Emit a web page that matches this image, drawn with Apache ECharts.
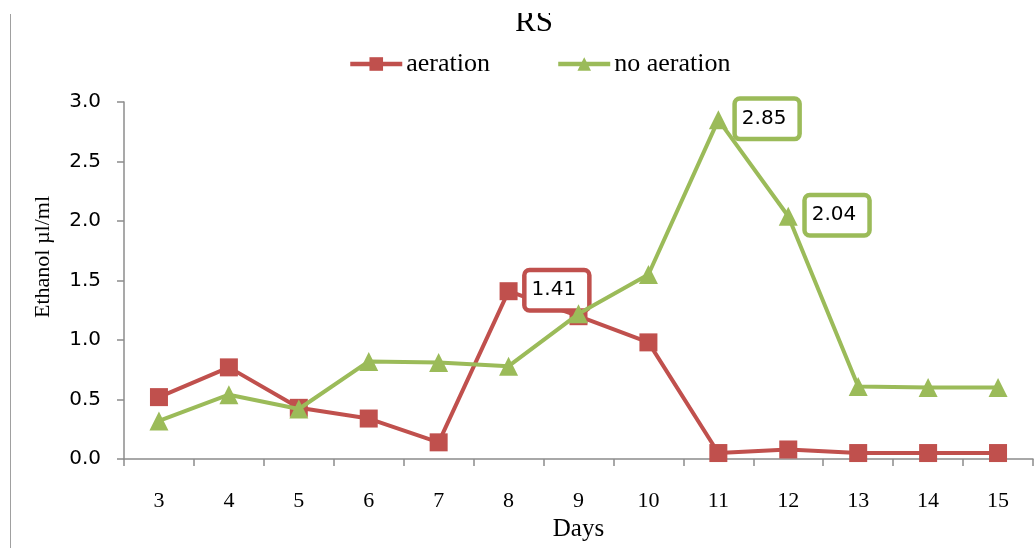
<!DOCTYPE html>
<html>
<head>
<meta charset="utf-8">
<script src="https://cdn.jsdelivr.net/npm/echarts@6/dist/echarts.min.js"></script>
<style>
  html, body { margin: 0; padding: 0; background: #fff; }
  #chart { width: 1036px; height: 548px; }
</style>
</head>
<body>
<div id="chart"></div>
<script>
// Ethanol concentration per day, with and without aeration
const days = ['3', '4', '5', '6', '7', '8', '9', '10', '11', '12', '13', '14', '15'];
const aeration = [0.52, 0.77, 0.43, 0.34, 0.14, 1.41, 1.20, 0.98, 0.05, 0.08, 0.05, 0.05, 0.05];
const noAeration = [0.32, 0.54, 0.42, 0.82, 0.81, 0.78, 1.22, 1.55, 2.85, 2.04, 0.61, 0.60, 0.60];
const yTicks = [0, 0.5, 1.0, 1.5, 2.0, 2.5, 3.0];
// indices of points whose value is written next to them
const aerationLabelled = [5];
const noAerationLabelled = [8, 9];

const RED = '#C0504D';
const GREEN = '#9BBB59';
const SERIF = '"Liberation Serif", "DejaVu Serif", serif';
const SANS = '"DejaVu Sans", Verdana, sans-serif';

function withLabels(values, labelled, color) {
  return values.map((v, i) => {
    if (!labelled.includes(i)) return v;
    return {
      value: v,
      label: {
        show: true,
        position: 'right',
        distance: 9,
        offset: [0, -1],
        formatter: (p) => p.value.toFixed(2),
        color: '#000',
        fontFamily: SANS,
        fontSize: 20,
        lineHeight: 22,
        backgroundColor: '#fff',
        borderColor: color,
        borderWidth: 4.5,
        borderRadius: 3,
        padding: [8, 11, 6, 5]
      }
    };
  });
}

const chart = echarts.init(document.getElementById('chart'));
chart.setOption({
  animation: false,
  backgroundColor: '#fff',
  title: {
    text: 'RS',
    left: 529,
    textAlign: 'center',
    top: 2,
    textStyle: { fontFamily: SERIF, fontSize: 31, fontWeight: 'normal', color: '#000' }
  },
  legend: {
    top: 46,
    left: 343,
    itemGap: 66,
    itemWidth: 52,
    itemHeight: 17,
    lineStyle: { width: 4.5 },
    textStyle: { fontFamily: SERIF, fontSize: 26, color: '#000', padding: [0, 0, 0, -1] },
    data: ['aeration', 'no aeration']
  },
  grid: { left: 124, right: 3, top: 102, bottom: 89, outerBoundsMode: 'none', containLabel: false },
  xAxis: {
    type: 'category',
    data: days,
    boundaryGap: true,
    name: 'Days',
    nameLocation: 'middle',
    nameGap: 53,
    nameTextStyle: { fontFamily: SERIF, fontSize: 25, color: '#000' },
    axisLine: { lineStyle: { color: '#8c8c8c', width: 1.5 } },
    axisTick: { show: true, alignWithLabel: false, length: 7, lineStyle: { color: '#8c8c8c', width: 1.5 } },
    axisLabel: { fontFamily: SERIF, fontSize: 22, color: '#000', margin: 31 },
    splitLine: { show: false }
  },
  yAxis: {
    type: 'value',
    min: 0,
    max: 3,
    interval: 0.5,
    axisLine: { show: true, lineStyle: { color: '#8c8c8c', width: 1.5 } },
    axisTick: { show: true, length: 7, lineStyle: { color: '#8c8c8c', width: 1.5 } },
    axisLabel: {
      fontFamily: SANS,
      fontSize: 20,
      color: '#000',
      margin: 23,
      formatter: (v) => yTicks.includes(v) ? v.toFixed(1) : ''
    },
    splitLine: { show: false }
  },
  graphic: [
    // frame edge on the left
    {
      type: 'line',
      shape: { x1: 10.5, y1: 14, x2: 10.5, y2: 548 },
      style: { stroke: '#a0a0a0', lineWidth: 1 }
    },
    // the top of the page trims the title
    {
      type: 'rect',
      z: 100,
      shape: { x: 0, y: 0, width: 1036, height: 13 },
      style: { fill: '#fff' }
    },
    // value axis title
    {
      type: 'text',
      x: 43,
      y: 257,
      rotation: Math.PI / 2,
      style: {
        text: 'Ethanol µl/ml',
        fontFamily: SERIF,
        fontSize: 22,
        fill: '#000',
        align: 'center',
        verticalAlign: 'middle'
      }
    }
  ],
  series: [
    {
      name: 'aeration',
      type: 'line',
      data: withLabels(aeration, aerationLabelled, RED),
      symbol: 'rect',
      symbolSize: 18,
      showAllSymbol: true,
      lineStyle: { color: RED, width: 4 },
      itemStyle: { color: RED },
      z: 2
    },
    {
      name: 'no aeration',
      type: 'line',
      data: withLabels(noAeration, noAerationLabelled, GREEN),
      symbol: 'triangle',
      symbolSize: 19,
      showAllSymbol: true,
      lineStyle: { color: GREEN, width: 4 },
      itemStyle: { color: GREEN },
      z: 3
    }
  ]
});
</script>
</body>
</html>
